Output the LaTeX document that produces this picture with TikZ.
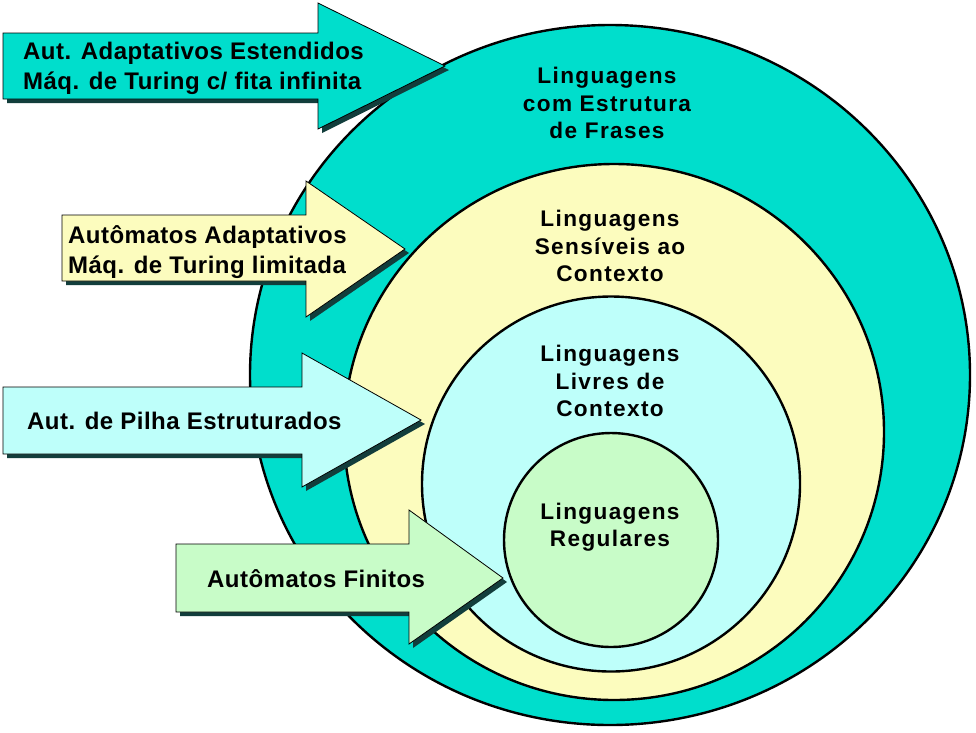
\documentclass[tikz,border=0pt]{standalone}
\usepackage{fontspec}
\setmainfont{Liberation Sans}
\usetikzlibrary{shapes.geometric,shadows}
\definecolor{cteal}{RGB}{0,222,204}
\definecolor{cyel}{RGB}{252,252,190}
\definecolor{ccyan}{RGB}{190,255,250}
\definecolor{cgreen}{RGB}{200,252,200}
\definecolor{cshadow}{RGB}{18,62,60}
\begin{document}
\begin{tikzpicture}[x=1pt,y=-1pt,
  ring/.style={ellipse, draw=black, line width=2.4pt, inner sep=0pt},
  bigarrow/.style={draw=black, line width=0.8pt, line join=miter,
    drop shadow={shadow xshift=4pt, shadow yshift=-4pt, fill=cshadow, opacity=1}},
  lang/.style={font=\fontsize{22.6}{27.5}\selectfont\bfseries\addfontfeatures{LetterSpace=6}, align=center, inner sep=0pt},
  aut/.style={font=\fontsize{24}{30}\selectfont\bfseries\addfontfeatures{LetterSpace=2}, align=left, anchor=west, inner sep=0pt}]
\useasboundingbox (0,0) rectangle (976,732);
\fill[white] (0,0) rectangle (976,732);
% nested language classes
\node[ring, fill=cteal, minimum width=720, minimum height=700] (re) at (610,375) {};
\node[ring, fill=cyel, minimum width=540, minimum height=536] (cs) at (614,432) {};
\node[ring, fill=ccyan, minimum width=378, minimum height=375] (cf) at (611,484) {};
\node[ring, fill=cgreen, minimum width=214, minimum height=214] (rg) at (611,540) {};
\node[lang] (tre) at (607,103) {Linguagens\\com Estrutura\\de Frases};
\node[lang] (tcs) at (610,246) {Linguagens\\Sensíveis ao\\Contexto};
\node[lang] (tcf) at (610,381) {Linguagens\\Livres de\\Contexto};
\node[lang] (trg) at (610,527) {Linguagens\\Regulares};
% arrows
\path[bigarrow, fill=cteal] (3,33) -- (318,33) -- (318,3) -- (445,66) -- (318,129) -- (318,99) -- (3,99) -- cycle;
\path[bigarrow, fill=cyel] (62,215) -- (306,215) -- (306,181) -- (405,249) -- (306,317) -- (306,281) -- (62,281) -- cycle;
\path[bigarrow, fill=ccyan] (3,387) -- (302,387) -- (302,353) -- (421,420) -- (302,487) -- (302,454) -- (3,454) -- cycle;
\path[bigarrow, fill=cgreen] (176,544) -- (409,544) -- (409,510) -- (503,578) -- (409,644) -- (409,612) -- (176,612) -- cycle;
\node[aut] (a1) at (23,68) {Aut. Adaptativos Estendidos\\Máq. de Turing c/ fita infinita};
\node[aut] (a2) at (68,252) {Autômatos Adaptativos\\Máq. de Turing limitada};
\node[aut] (a3) at (27,421) {Aut. de Pilha Estruturados};
\node[aut] (a4) at (207,579) {Autômatos Finitos};
\end{tikzpicture}
\end{document}
